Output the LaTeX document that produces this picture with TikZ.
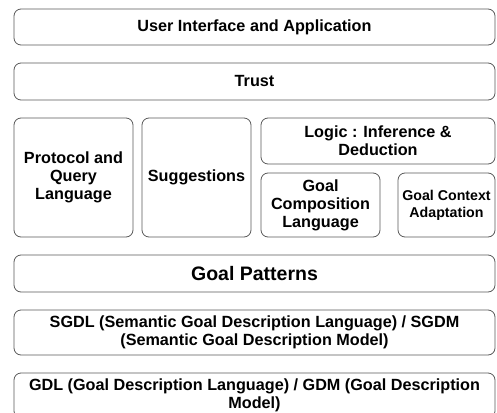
\documentclass[tikz,border=0pt]{standalone}
\usepackage{fontspec}
\setmainfont{Liberation Sans}
\usetikzlibrary{positioning}
\tikzset{
    layer/.style={draw=black!65, line width=0.8pt, rounded corners=7pt,
        anchor=north west, align=center, inner sep=0pt, outer sep=0pt,
        font=\bfseries\fontsize{16.2}{18}\selectfont},
    biglayer/.style={layer, font=\bfseries\fontsize{19.5}{21}\selectfont},
    smalllayer/.style={layer, font=\bfseries\fontsize{14.2}{17}\selectfont}
}
\def\Layer#1(#2,#3)#4#5#6{
    \node[#1, minimum width=#4pt, minimum height=#5pt] at (#2,#3) {#6};
}
\begin{document}
\begin{tikzpicture}[x=1pt,y=-1pt]
    \useasboundingbox (0,0) rectangle (497,412);
    \clip (0,0) rectangle (497,412);
    \Layer{layer}(14,9){481}{36}{User Interface and Application}
    \Layer{layer}(14,63){481}{37}{Trust}
    \node[layer, minimum width=119pt, minimum height=119pt] (protocol) at (14,118) {Protocol and\\Query\\Language};
    \node[layer, minimum width=109pt, minimum height=119pt] (suggest) at (142,118) {Suggestions};
    \node[layer, minimum width=234pt, minimum height=46pt] (logic) at (261,118) {Logic : Inference \&\\Deduction};
    \node[layer, minimum width=119pt, minimum height=64pt] (compose) at (261,173) {Goal\\Composition\\Language};
    \node[smalllayer, minimum width=97pt, minimum height=64pt] (context) at (398,173) {Goal Context\\Adaptation};
    \Layer{biglayer}(14,255){481}{37}{Goal Patterns}
    \Layer{layer}(14,310){481}{45}{SGDL (Semantic Goal Description Language) / SGDM\\(Semantic Goal Description Model)}
    \Layer{layer}(14,373){481}{45}{GDL (Goal Description Language) / GDM (Goal Description\\Model)}
\end{tikzpicture}
\end{document}
